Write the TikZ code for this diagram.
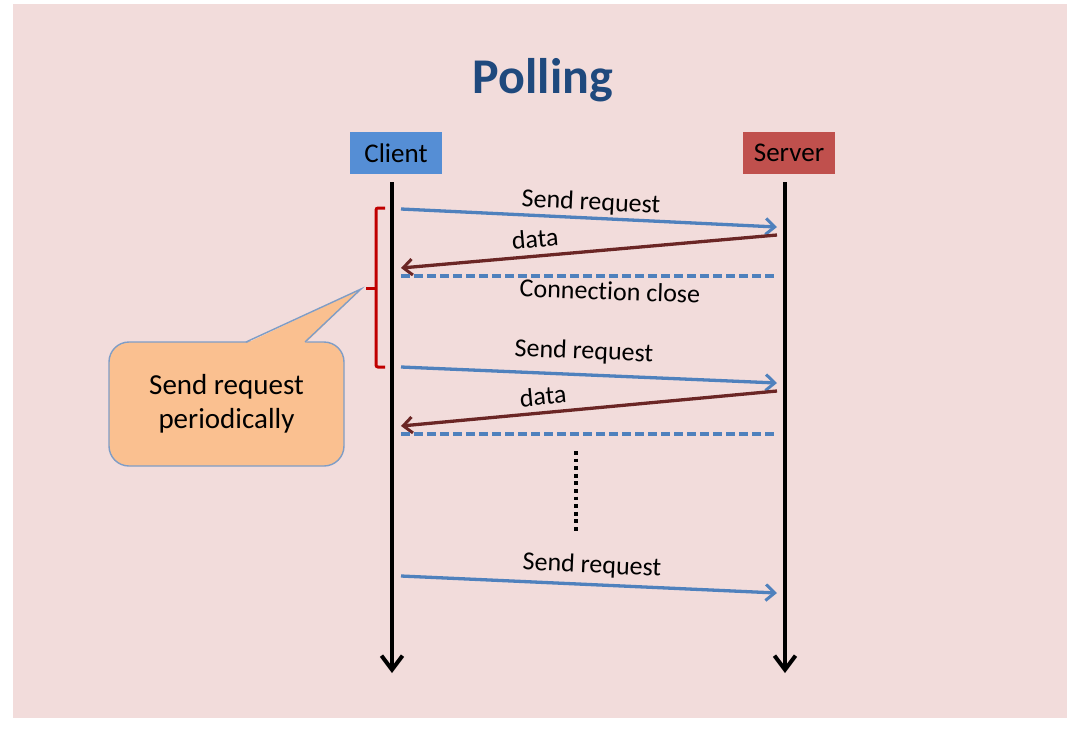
\documentclass[tikz,border=0pt]{standalone}
\usepackage{fontspec}
\setmainfont[Ligatures=NoCommon]{Carlito}
\usetikzlibrary{arrows.meta}
\definecolor{bgpink}{HTML}{F2DCDB}
\definecolor{titleblue}{HTML}{1F497D}
\definecolor{clientblue}{HTML}{558ED5}
\definecolor{serverred}{HTML}{C0504D}
\definecolor{reqblue}{HTML}{4F81BD}
\definecolor{datared}{HTML}{6B2625}
\definecolor{bracketred}{HTML}{C00000}
\definecolor{calloutfill}{HTML}{FAC090}
\definecolor{calloutedge}{HTML}{7F9DC6}
\begin{document}
\begin{tikzpicture}[x=1pt,y=-1pt,
  actor/.style={minimum width=92pt,minimum height=42pt,inner sep=0pt,font=\fontsize{27}{30}\selectfont},
  lifeline/.style={line width=4pt,-{Straight Barb[length=14pt,width=21pt,line width=4pt]}},
  req/.style={reqblue,line width=3.3pt,-{Straight Barb[length=9pt,width=16pt,line width=3pt]}},
  resp/.style={datared,line width=3.3pt,-{Straight Barb[length=9pt,width=16pt,line width=3pt]}},
  closeline/.style={reqblue,line width=3.2pt,dash pattern=on 9pt off 4pt},
  lbl/.style={inner sep=0pt,font=\fontsize{26}{30}\selectfont},
]
\useasboundingbox (0,0) rectangle (1080,732);
\fill[white] (0,0) rectangle (1080,732);
\fill[bgpink] (13,4) rectangle (1067,718);

% title
\node[anchor=base,font=\bfseries\fontsize{50}{60}\selectfont,text=titleblue] (title) at (543,93) {Polling};

% actors
\node[actor,fill=clientblue] (client) at (396,153) {Client};
\node[actor,fill=serverred] (server) at (789,153) {Server};

% lifelines
\coordinate (ctop) at (392,182);
\coordinate (cbot) at (392,673);
\coordinate (stop) at (785,182);
\coordinate (sbot) at (785,673);
\draw[lifeline] (ctop) -- (cbot);
\draw[lifeline] (stop) -- (sbot);

% message end points
\coordinate (r1a) at (401,209); \coordinate (r1b) at (777,227);
\coordinate (d1a) at (777,235); \coordinate (d1b) at (401,268);
\coordinate (k1a) at (401,276); \coordinate (k1b) at (777,276);
\coordinate (r2a) at (401,367); \coordinate (r2b) at (777,383);
\coordinate (d2a) at (777,391); \coordinate (d2b) at (401,426);
\coordinate (k2a) at (401,434); \coordinate (k2b) at (777,434);
\coordinate (r3a) at (401,576); \coordinate (r3b) at (777,593);

\draw[req] (r1a) -- (r1b);
\draw[resp] (d1a) -- (d1b);
\draw[closeline] (k1a) -- (k1b);
\draw[req] (r2a) -- (r2b);
\draw[resp] (d2a) -- (d2b);
\draw[closeline] (k2a) -- (k2b);
\draw[req] (r3a) -- (r3b);

% labels
\node[lbl,rotate=-2.7] (l1) at (591,203) {Send request};
\node[lbl,rotate=5] (l2) at (535,239) {data};
\node[lbl,rotate=-2] (l3) at (610,291) {Connection close};
\node[lbl,rotate=-2.4] (l4) at (584,352) {Send request};
\node[lbl,rotate=5.3] (l5) at (543,396) {data};
\node[lbl,rotate=-2.6] (l6) at (592,566) {Send request};

% dotted continuation
\coordinate (dotA) at (576,451);
\coordinate (dotB) at (576,533);
\draw[line width=4pt,dash pattern=on 3.8pt off 3.8pt] (dotA) -- (dotB);

% bracket
\coordinate (brtop) at (385,208);
\coordinate (brbot) at (385,367);
\coordinate (brtip) at (366,288);
\draw[bracketred,line width=3pt,rounded corners=2pt]
  (brtop) -- (376,208) -- (376,367) -- (brbot);
\draw[bracketred,line width=3pt] (376,288) -- (brtip);

% callout
\node[draw=calloutedge,fill=calloutfill,line width=1.4pt,rounded corners=20pt,
      minimum width=235pt,minimum height=124pt,inner sep=0pt,align=center,
      font=\fontsize{29}{34}\selectfont] (callout) at (226.5,404) {Send request\\periodically};
\coordinate (ptip) at (361,289);
\fill[calloutfill] (246,343.5) -- (ptip) -- (305,343.5) -- cycle;
\draw[calloutedge,line width=1.4pt,line join=miter] (246,342) -- (ptip) -- (305,342);
\end{tikzpicture}
\end{document}
